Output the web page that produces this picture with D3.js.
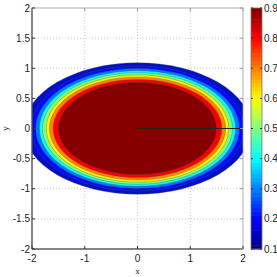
<!DOCTYPE html>
<html>
<head>
<meta charset="utf-8">
<script src="https://cdn.jsdelivr.net/npm/d3@7"></script>
<style>
  body { margin: 0; background: #fff; }
  svg text { font-family: "Liberation Sans", Arial, sans-serif; font-size: 10px; fill: #222; }
</style>
</head>
<body>
<svg id="canvas" width="277" height="277"></svg>
<script>
// contour levels and where each contour crosses the axes
let levels = [0.1, 0.2, 0.3, 0.4, 0.5, 0.6, 0.7, 0.8, 0.9];
let semiX = [2.15, 2.02, 1.93, 1.86, 1.80, 1.73, 1.67, 1.60, 1.50];
let semiY = [1.09, 1.035, 0.995, 0.96, 0.925, 0.89, 0.855, 0.815, 0.767];

let xTicks = [-2, -1, 0, 1, 2];
let yTicks = [-2, -1.5, -1, -0.5, 0, 0.5, 1, 1.5, 2];
let cbTicks = [0.1, 0.2, 0.3, 0.4, 0.5, 0.6, 0.7, 0.8, 0.9];

let lineX = [0, 2];
let lineY = [0, 0];

let svg = d3.select('#canvas');
let pLeft = 32, pRight = 243, pTop = 8, pBottom = 249;

let x = d3.scaleLinear().domain([-2, 2]).range([pLeft, pRight]);
let y = d3.scaleLinear().domain([-2, 2]).range([pBottom, pTop]);
let cb = d3.scaleLinear().domain([0.1, 0.9]).range([pBottom, pTop]);

function jet(t) {
  let c = v => Math.max(0, Math.min(1, v));
  let r = c(1.5 - Math.abs(4 * t - 3));
  let g = c(1.5 - Math.abs(4 * t - 2));
  let b = c(1.5 - Math.abs(4 * t - 1));
  return d3.rgb(r * 255, g * 255, b * 255).toString();
}
// 64-entry jet, picked by the lower level of each band
let jet64 = d3.range(64).map(i => jet((i + 0.5) / 64));
let color = v => {
  if (v <= 0.1) return '#0010c8';
  let i = Math.min(63, Math.floor((v - 0.1) / 0.8 * 64));
  return jet64[i];
};

svg.append('clipPath').attr('id', 'clip')
  .append('rect')
  .attr('x', pLeft).attr('y', pTop)
  .attr('width', pRight - pLeft).attr('height', pBottom - pTop);

// grid
svg.append('g').selectAll('line')
  .data(xTicks.slice(1, -1))
  .enter().append('line')
  .attr('x1', d => x(d)).attr('x2', d => x(d))
  .attr('y1', pTop).attr('y2', pBottom)
  .attr('stroke', '#bbb').attr('stroke-width', 0.8)
  .attr('stroke-dasharray', '1,2');
svg.append('g').selectAll('line')
  .data(yTicks.slice(1, -1))
  .enter().append('line')
  .attr('y1', d => y(d)).attr('y2', d => y(d))
  .attr('x1', pLeft).attr('x2', pRight)
  .attr('stroke', '#bbb').attr('stroke-width', 0.8)
  .attr('stroke-dasharray', '1,2');

// filled contours
let bands = levels.map((d, i) => ({ level: d, rx: semiX[i], ry: semiY[i] }));
svg.append('g')
  .attr('clip-path', 'url(#clip)')
  .selectAll('ellipse')
  .data(bands)
  .enter().append('ellipse')
  .attr('cx', x(0)).attr('cy', y(0))
  .attr('rx', d => x(d.rx) - x(0))
  .attr('ry', d => y(0) - y(d.ry))
  .attr('fill', d => color(d.level))
  .attr('stroke', '#555').attr('stroke-width', 0.6).attr('stroke-opacity', 0.6);

// black line
svg.append('path')
  .datum(lineX.map((d, i) => [d, lineY[i]]))
  .attr('d', d3.line().x(d => x(d[0])).y(d => y(d[1])))
  .attr('stroke', '#222').attr('stroke-width', 1).attr('fill', 'none');

// axes box
svg.append('rect')
  .attr('x', pLeft).attr('y', pTop)
  .attr('width', pRight - pLeft).attr('height', pBottom - pTop)
  .attr('fill', 'none').attr('stroke', '#999').attr('stroke-width', 0.8);
svg.append('line').attr('x1', pLeft).attr('x2', pLeft).attr('y1', pTop).attr('y2', pBottom)
  .attr('stroke', '#333');
svg.append('line').attr('x1', pLeft).attr('x2', pRight).attr('y1', pBottom).attr('y2', pBottom)
  .attr('stroke', '#333');

// ticks
let xt = svg.append('g').selectAll('g').data(xTicks).enter().append('g');
xt.append('line')
  .attr('x1', d => x(d)).attr('x2', d => x(d))
  .attr('y1', pBottom).attr('y2', pBottom - 3)
  .attr('stroke', '#333');
xt.append('line')
  .attr('x1', d => x(d)).attr('x2', d => x(d))
  .attr('y1', pTop).attr('y2', pTop + 3)
  .attr('stroke', '#999');
xt.append('text')
  .attr('x', d => x(d)).attr('y', pBottom + 13)
  .attr('text-anchor', 'middle')
  .text(d => d);

let yt = svg.append('g').selectAll('g').data(yTicks).enter().append('g');
yt.append('line')
  .attr('x1', pLeft).attr('x2', pLeft + 3)
  .attr('y1', d => y(d)).attr('y2', d => y(d))
  .attr('stroke', '#333');
yt.append('line')
  .attr('x1', pRight).attr('x2', pRight - 3)
  .attr('y1', d => y(d)).attr('y2', d => y(d))
  .attr('stroke', '#999');
yt.append('text')
  .attr('x', pLeft - 2).attr('y', d => y(d) + 3.5)
  .attr('text-anchor', 'end')
  .text(d => d);

svg.append('text')
  .attr('x', x(0)).attr('y', 274)
  .attr('text-anchor', 'middle')
  .style('font-family', '"Liberation Serif", serif').style('font-size', '9px')
  .text('x');
svg.append('text')
  .attr('transform', 'translate(8,' + y(0) + ') rotate(-90)')
  .attr('text-anchor', 'middle')
  .style('font-family', '"Liberation Serif", serif').style('font-size', '9px')
  .text('y');

// colorbar
let cbLeft = 251, cbRight = 262;
svg.append('g').selectAll('rect')
  .data(jet64)
  .enter().append('rect')
  .attr('x', cbLeft).attr('width', cbRight - cbLeft)
  .attr('y', (d, i) => cb(0.1 + (i + 1) * 0.8 / 64))
  .attr('height', (pBottom - pTop) / 64 + 0.5)
  .attr('fill', d => d);
svg.append('rect')
  .attr('x', cbLeft).attr('y', pTop)
  .attr('width', cbRight - cbLeft).attr('height', pBottom - pTop)
  .attr('fill', 'none').attr('stroke', '#777').attr('stroke-width', 0.8);
let ct = svg.append('g').selectAll('g').data(cbTicks).enter().append('g');
ct.append('line')
  .attr('x1', cbRight).attr('x2', cbRight - 2)
  .attr('y1', d => cb(d)).attr('y2', d => cb(d))
  .attr('stroke', '#333');
ct.append('line')
  .attr('x1', cbLeft).attr('x2', cbLeft + 2)
  .attr('y1', d => cb(d)).attr('y2', d => cb(d))
  .attr('stroke', '#333');
ct.append('text')
  .attr('x', cbRight + 2).attr('y', d => cb(d) + 3.5)
  .text(d => d);
</script>
</body>
</html>
